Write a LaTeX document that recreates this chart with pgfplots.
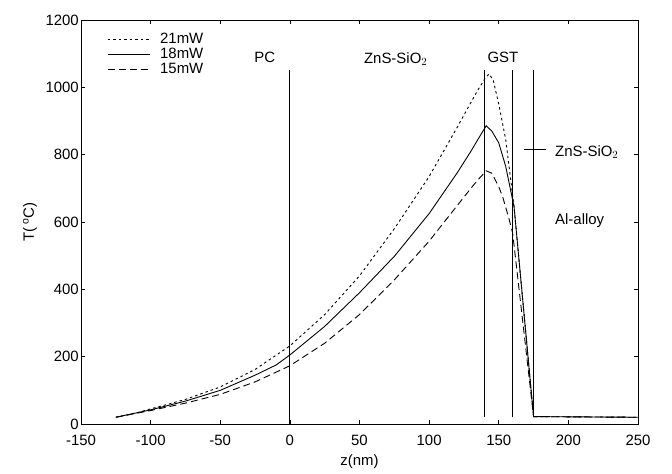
\documentclass[border=0pt]{standalone}
\usepackage{fontspec}
\setmainfont{Liberation Sans}
\usepackage{pgfplots}
\pgfplotsset{compat=1.18}

\begin{document}
\begin{tikzpicture}
\begin{axis}[width=557bp,height=404bp,scale only axis,
  xmin=-150,xmax=250,ymin=0,ymax=1200,
  xtick={-150,-100,...,250}, ytick={0,200,...,1200},
  /pgf/number format/assume math mode=true,
  /pgf/number format/1000 sep={},
  tick label style={font=\fontsize{15}{17}\selectfont,inner sep=1pt},
  xticklabel shift=10bp, yticklabel shift=1bp,
  label style={font=\fontsize{15}{17}\selectfont},
  xlabel={z(nm)}, ylabel={T(\,\textsuperscript{o}C)},
  xlabel style={yshift=-4bp}, ylabel style={yshift=4bp},
  tick style={black,line width=0.6pt}, major tick length=4bp,
  axis line style={line width=0.8pt},
  legend style={draw=none,fill=none,at={(0.045,0.975)},anchor=north west,
    font=\fontsize{15}{16}\selectfont,row sep=-1pt,inner sep=1pt},
  legend cell align=left,
  legend image code/.code={\draw[#1] (0bp,0bp) -- (42bp,0bp);\path (50bp,0bp);},
  every axis plot/.append style={line width=0.9pt,black}]

\addplot[dash pattern=on 2.5pt off 3pt] coordinates {
 (-125,20)(-110,33)(-100,45)(-90,56)(-75,73)(-50,110)(-25,162)(0,232)
 (25,325)(50,440)(75,580)(100,735)(120,880)(130,955)(135,992)(140,1025)
 (143,1040)(146,1022)(150,950)(155,845)(158,745)(161,645)(175,22)(250,20)};
\addlegendentry{21mW}
\addplot[solid] coordinates {
 (-125,20)(-100,42)(-75,68)(-50,100)(-25,145)(-10,175)(0,205)
 (25,290)(50,390)(75,498)(100,625)(120,745)(130,810)(135,845)(141,886)
 (145,870)(150,835)(155,765)(158,705)(161,645)(175,22)(250,20)};
\addlegendentry{18mW}
\addplot[dash pattern=on 7pt off 4pt] coordinates {
 (-125,20)(-100,40)(-75,62)(-50,88)(-25,125)(0,173)
 (25,240)(50,325)(75,428)(100,543)(120,648)(130,700)(135,725)(141,752)
 (145,745)(150,705)(153,672)(157,615)(160,567)(175,22)(250,20)};
\addlegendentry{15mW}

% layer boundaries
\addplot[forget plot] coordinates {(0,0)(0,1050)};
\addplot[forget plot] coordinates {(140,20)(140,1050)};
\addplot[forget plot] coordinates {(160,20)(160,1050)};
\addplot[forget plot] coordinates {(175,20)(175,1050)};
\addplot[forget plot] coordinates {(168,815)(184,815)};

\node[font=\fontsize{15}{17}\selectfont] at (axis cs:-18,1090) {PC};
\node[font=\fontsize{15}{17}\selectfont] at (axis cs:76,1085) {ZnS-SiO$_2$};
\node[font=\fontsize{15}{17}\selectfont] at (axis cs:153,1090) {GST};
\node[font=\fontsize{15}{17}\selectfont,anchor=west] at (axis cs:188,808) {ZnS-SiO$_2$};
\node[font=\fontsize{15}{17}\selectfont,anchor=west] at (axis cs:188,603) {Al-alloy};
\end{axis}
\path ([xshift=-81bp,yshift=-50bp]current axis.south west) rectangle ([xshift=34bp,yshift=20bp]current axis.north east);
\end{tikzpicture}
\end{document}
